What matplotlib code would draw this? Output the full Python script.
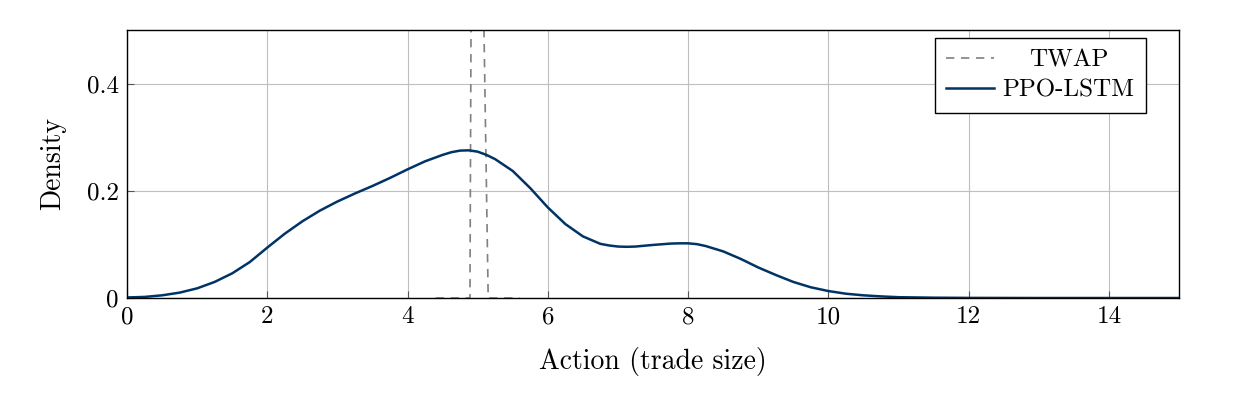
import numpy as np
import matplotlib
matplotlib.use('Agg')
import matplotlib.pyplot as plt

plt.rcParams['font.family'] = 'cmr10'
plt.rcParams['mathtext.fontset'] = 'cm'
plt.rcParams['axes.formatter.use_mathtext'] = True

# PPO-LSTM density
ppo_x = [0, 0.25, 0.5, 0.75, 1.0, 1.25, 1.5, 1.75, 2.0, 2.25, 2.5, 2.75, 3.0,
         3.25, 3.5, 3.75, 4.0, 4.25, 4.5, 4.625, 4.75, 4.875, 5.0, 5.125,
         5.25, 5.5, 5.75, 6.0, 6.25, 6.5, 6.75, 6.875, 7.0, 7.125, 7.25,
         7.5, 7.75, 7.875, 8.0, 8.125, 8.25, 8.5, 8.75, 9.0, 9.25, 9.5,
         9.75, 10.0, 10.25, 10.5, 10.75, 11.0, 11.5, 12.0, 13.0, 14.0, 15.0]
ppo_y = [0.001, 0.002, 0.005, 0.010, 0.018, 0.030, 0.046, 0.067, 0.094,
         0.120, 0.143, 0.163, 0.180, 0.195, 0.209, 0.224, 0.240, 0.255,
         0.267, 0.272, 0.275, 0.2755, 0.273, 0.267, 0.259, 0.237, 0.205,
         0.169, 0.138, 0.115, 0.101, 0.098, 0.096, 0.0955, 0.096, 0.099,
         0.1015, 0.102, 0.102, 0.1005, 0.097, 0.087, 0.073, 0.057, 0.043,
         0.030, 0.020, 0.013, 0.008, 0.005, 0.003, 0.0015, 0.0006, 0.0002,
         0.0, 0.0, 0.0]

# TWAP density: a narrow spike at 5
twap_x = [4.4, 4.89, 4.905, 5.0, 5.09, 5.15, 5.6]
twap_y = [0.0, 0.0, 0.5, 20.0, 0.5, 0.0, 0.0]

xticks = [0, 2, 4, 6, 8, 10, 12, 14]
yticks = [0, 0.2, 0.4]
ytick_labels = ['0', '0.2', '0.4']

fig = plt.figure(figsize=(12.35, 4.05), dpi=100)
ax = fig.add_axes([127 / 1235, 107 / 405, 1052 / 1235, 268 / 405])

ax.plot(twap_x, twap_y, color='#808080', lw=1.2, dashes=(5, 4), label='TWAP')
ax.plot(ppo_x, ppo_y, color='#003366', lw=1.8, label='PPO-LSTM')

ax.set_xlim(0, 15)
ax.set_ylim(0, 0.5)
ax.set_xticks(xticks)
ax.set_xticklabels([str(t) for t in xticks])
ax.set_yticks(yticks)
ax.set_yticklabels(ytick_labels)
ax.grid(True, color='#bfbfbf', lw=0.8)
ax.set_axisbelow(True)
ax.tick_params(direction='in', length=5, width=0.8, color='#555555',
               labelsize=18, pad=6)
for s in ax.spines.values():
    s.set_linewidth(1.0)

ax.set_xlabel('Action (trade size)', fontsize=20, labelpad=13)
ax.set_ylabel('Density', fontsize=20, labelpad=15)

leg = ax.legend(loc='upper right', bbox_to_anchor=(0.9686, 0.970),
                borderaxespad=0, fontsize=18, fancybox=False,
                edgecolor='black', framealpha=1, handlelength=1.9,
                handletextpad=0.35, labelspacing=0.3, borderpad=0.45)
leg.get_frame().set_linewidth(1.0)

# centre the legend labels in their column, as pgfplots does
fig.canvas.draw()
texts = leg.get_texts()
widths = [t.get_window_extent().width for t in texts]
for t, w in zip(texts, widths):
    t.set_x((max(widths) - w) / 2)

fig.savefig('out.png', dpi=100)
